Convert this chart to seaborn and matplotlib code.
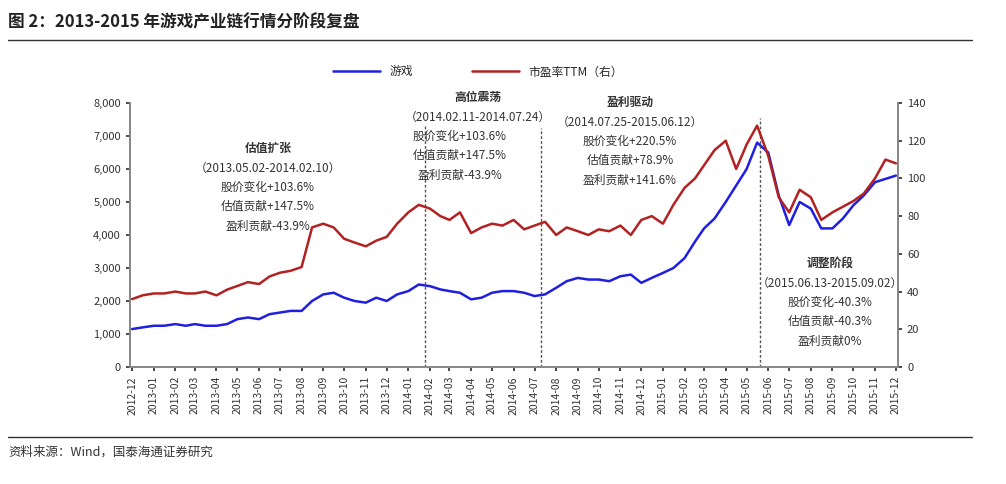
import matplotlib
matplotlib.use("Agg")
import matplotlib.pyplot as plt
import matplotlib.dates as mdates
import seaborn as sns
import pandas as pd

# 游戏指数（左轴），每月两个点（1日、16日）
game = [1150, 1200, 1250, 1250, 1300, 1250, 1300, 1250, 1250, 1300,
        1450, 1500, 1450, 1600, 1650, 1700, 1700, 2000, 2200, 2250,
        2100, 2000, 1950, 2100, 2000, 2200, 2300, 2500, 2450, 2350,
        2300, 2250, 2050, 2100, 2250, 2300, 2300, 2250, 2150, 2200,
        2400, 2600, 2700, 2650, 2650, 2600, 2750, 2800, 2550, 2700,
        2850, 3000, 3300, 3800, 4200, 4500, 5000, 5500, 6000, 6800,
        6500, 5200, 4300, 5000, 4800, 4200, 4200, 4500, 4900, 5200,
        5600, 5700, 5800]
# 市盈率TTM（右轴）
pe = [36, 38, 39, 39, 40, 39, 39, 40, 38, 41,
      43, 45, 44, 48, 50, 51, 53, 74, 76, 74,
      68, 66, 64, 67, 69, 76, 82, 86, 84, 80,
      78, 82, 71, 74, 76, 75, 78, 73, 75, 77,
      70, 74, 72, 70, 73, 72, 75, 70, 78, 80,
      76, 86, 95, 100, 107, 115, 120, 105, 118, 128,
      112, 90, 82, 94, 90, 78, 82, 85, 88, 92,
      100, 110, 108]
months = pd.date_range("2012-12-01", "2015-12-01", freq="MS")
dates = []
for m in months:
    dates.append(m)
    if m < months[-1]:
        dates.append(m + pd.Timedelta(days=15))
df = pd.DataFrame({"date": dates, "game": game, "pe": pe})

split_dates = ["2014-01-25", "2014-07-10", "2015-05-20"]
split_tops = [7330, 7250, 7550]

sns.set_theme(style="white")
plt.rcParams["font.family"] = ["Noto Sans CJK SC", "DejaVu Sans"]
plt.rcParams["axes.unicode_minus"] = False

W, H = 1006, 484
fig = plt.figure(figsize=(W / 100, H / 100), dpi=100)
ax = fig.add_axes([130 / W, 1 - 367 / H, 768 / W, 264 / H])
ax2 = ax.twinx()

sns.lineplot(data=df, x="date", y="game", ax=ax, color="#1f1fe0", lw=1.8, label="游戏", legend=False)
sns.lineplot(data=df, x="date", y="pe", ax=ax2, color="#b22222", lw=1.8, label="市盈率TTM（右）", legend=False)

ax.set_ylim(0, 8000)
ax2.set_ylim(0, 140)
ax.set_yticks(range(0, 8001, 1000))
ax.set_yticklabels([f"{v:,}" for v in range(0, 8001, 1000)])
ax2.set_yticks(range(0, 141, 20))
ax.set_xlim(months[0] - pd.Timedelta(days=3), months[-1] + pd.Timedelta(days=3))
ax.set_xticks(months)
ax.xaxis.set_major_formatter(mdates.DateFormatter("%Y-%m"))
ax.set_xlabel("")
ax.set_ylabel("")
ax2.set_ylabel("")
for a in (ax, ax2):
    a.tick_params(labelsize=8, colors="#333333", length=3, direction="out")
    for s in a.spines.values():
        s.set_color("#888888")
    a.spines["top"].set_visible(False)
ax.tick_params(axis="x", rotation=90, labelsize=7.5)
ax.tick_params(left=True, bottom=True)
ax2.tick_params(right=True)

for d, top in zip(split_dates, split_tops):
    ax.vlines(pd.Timestamp(d), 0, top, colors="#555555", linestyles=(0, (2, 1.5)), lw=1)

def ftext(x, y, s, bold=False, ha="center"):
    fig.text(x / W, 1 - y / H, s, ha=ha, va="center", fontsize=8.5,
             color="#333333", fontweight="bold" if bold else "normal")

blocks = [
    (268, 148, "估值扩张", "（2013.05.02-2014.02.10）", ["股价变化+103.6%", "估值贡献+147.5%", "盈利贡献-43.9%"]),
    (478, 97, "高位震荡", "（2014.02.11-2014.07.24）", ["股价变化+103.6%", "估值贡献+147.5%", "盈利贡献-43.9%"]),
    (630, 102, "盈利驱动", "（2014.07.25-2015.06.12）", ["股价变化+220.5%", "估值贡献+78.9%", "盈利贡献+141.6%"]),
    (830, 263, "调整阶段", "（2015.06.13-2015.09.02）", ["股价变化-40.3%", "估值贡献-40.3%", "盈利贡献0%"]),
]
for i, (cx, ty, title, period, lines) in enumerate(blocks):
    ftext(cx, ty, title, bold=True)
    ftext(cx, ty + 20, period)
    lx = 460 if i == 1 else cx
    for j, ln in enumerate(lines):
        ftext(lx, ty + 39 + 19.5 * j, ln)

h1, l1 = ax.get_legend_handles_labels()
h2, l2 = ax2.get_legend_handles_labels()
fig.legend(h1 + h2, l1 + l2, loc="center", bbox_to_anchor=(478 / W, 1 - 72 / H),
           ncol=2, frameon=False, fontsize=8.5, handlelength=4, columnspacing=5)

fig.text(8 / W, 1 - 22 / H, "图 2：2013-2015 年游戏产业链行情分阶段复盘", fontsize=12,
         fontweight="bold", va="center", color="#222222")
fig.add_artist(plt.Line2D([8 / W, 972 / W], [1 - 40 / H] * 2, color="#333333", lw=1))
fig.add_artist(plt.Line2D([8 / W, 972 / W], [1 - 437 / H] * 2, color="#333333", lw=1))
fig.text(8 / W, 1 - 452 / H, "资料来源：Wind，国泰海通证券研究", fontsize=9, va="center", color="#333333")

fig.savefig("out.png", dpi=100)
